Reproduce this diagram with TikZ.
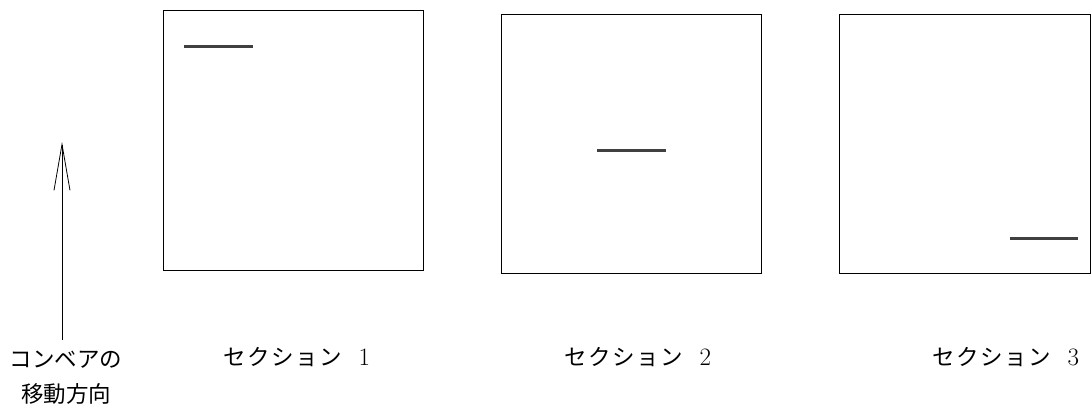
\documentclass[tikz,border=0pt]{standalone}
\usepackage{fontspec}
\newfontfamily\jpfont{Noto Sans CJK JP}
\usetikzlibrary{arrows.meta,positioning}
\tikzset{
  section/.style = {draw, line width=0.9pt, inner sep=0pt,
                    minimum width=260pt, minimum height=260pt},
  part/.style    = {line width=3pt, draw=black!75},
  caption/.style = {font=\fontsize{22.5}{35}\selectfont\jpfont,
                    align=center, inner sep=0pt},
  flow/.style    = {-{Straight Barb[length=46pt,width=16pt]}, line width=0.8pt},
}
\newcommand{\secname}[1]{\addfontfeature{LetterSpace=6}セクション\hspace{0.75em}{\rmfamily\fontsize{25}{30}\selectfont #1}}

\begin{document}
\begin{tikzpicture}[x=1pt, y=-1pt]
\useasboundingbox (0,0) rectangle (1091,410);
% ---- the three sections ----
\node[section] (s1) at (293,140) {};
\node[section, minimum height=259pt] (s2) at (631,143.5) {};
\node[section, minimum width=251pt, minimum height=259pt] (s3) at (964.5,143.5) {};
% ---- the parts on the belt ----
\draw[part] (184,46) -- (253,46);
\draw[part] (597,150) -- (666,150);
\draw[part] (1010,238) -- (1078,238);
% ---- labels ----
\node[caption] (l1) at (297,357) {\secname{1}};
\node[caption] (l2) at (638,357) {\secname{2}};
\node[caption] (l3) at (1006,357) {\secname{3}};
% ---- direction of the conveyor ----
\coordinate (tail) at (62,340);
\coordinate (head) at (62,142);
\draw[flow] (tail) -- (head);
\node[caption] (dir) at (66,378) {コンベアの\\移動方向};
\end{tikzpicture}
\end{document}
